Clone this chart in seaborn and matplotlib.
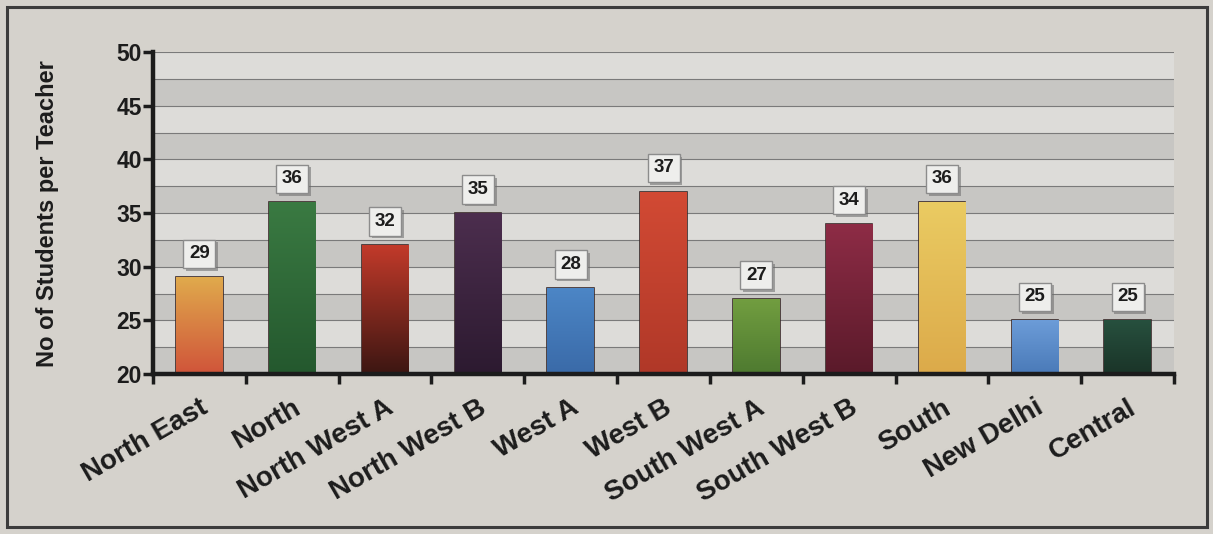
import numpy as np
import pandas as pd
import matplotlib
matplotlib.use("Agg")
import matplotlib.pyplot as plt
import matplotlib.patheffects as pe
from matplotlib.colors import LinearSegmentedColormap
from matplotlib.patches import Rectangle
import seaborn as sns

# Students per teacher, by education zone
zones = ["North East", "North", "North West A", "North West B", "West A", "West B",
         "South West A", "South West B", "South", "New Delhi", "Central"]
ratio = [29, 36, 32, 35, 28, 37, 27, 34, 36, 25, 25]
y_ticks = [20, 25, 30, 35, 40, 45, 50]

# Bar shading: colour at the top and at the base of each bar
top_colors = ["#e0aa4c", "#3a7a42", "#c23a2a", "#4c2e4e", "#4c86c6", "#d24a34",
              "#729e40", "#8e2c46", "#eacb62", "#6c9cd8", "#27503e"]
bottom_colors = ["#d0543a", "#24582e", "#3c1612", "#2c1a30", "#3a6aa8", "#b03828",
                 "#4e7a30", "#5a1a2a", "#dcaa4a", "#4a7ab8", "#1a3428"]

paper = "#d5d2cc"
band_light = "#dddcd9"
band_dark = "#c7c6c3"
ink = "#1c1c1c"

sns.set_theme(style="white")
plt.rcParams["font.family"] = ["Liberation Sans", "DejaVu Sans"]

fig = plt.figure(figsize=(12.13, 5.34), dpi=100, facecolor=paper)
ax = fig.add_axes([153 / 1213, 160 / 534, (1174 - 153) / 1213, 322 / 534])
ax.set_facecolor(band_light)

df = pd.DataFrame({"zone": zones, "ratio": ratio})
sns.barplot(data=df, x="zone", y="ratio", hue="zone", order=zones, hue_order=zones,
            palette=bottom_colors, saturation=1, width=0.5, legend=False, ax=ax,
            zorder=2)

ymin, ymax = y_ticks[0], y_ticks[-1]
ax.set_ylim(ymin, ymax)
ax.set_xlim(-0.5, len(zones) - 0.5)

# Alternating horizontal bands and thin rules every 2.5
for lo in np.arange(ymin, ymax, 5):
    ax.axhspan(lo, lo + 2.5, color=band_dark, lw=0, zorder=0)
for yv in np.arange(ymin, ymax + 0.1, 2.5):
    ax.axhline(yv, color="#7a7a7a", lw=0.8, zorder=0.5)

# Vertical colour gradient inside each bar
grad = np.linspace(0, 1, 256).reshape(-1, 1)
for patch, c_top, c_bot in zip(ax.patches, top_colors, bottom_colors):
    x0, y0 = patch.get_x(), patch.get_y()
    w, h = patch.get_width(), patch.get_height()
    cmap = LinearSegmentedColormap.from_list("bar", [c_bot, c_top])
    im = ax.imshow(grad, extent=[x0, x0 + w, max(y0, ymin), y0 + h], origin="lower",
                   aspect="auto", cmap=cmap, zorder=2.1, interpolation="bilinear")
    im.set_clip_path(patch)
    patch.set_edgecolor("#3a2a2a")
    patch.set_linewidth(1.2)
ax.set_ylim(ymin, ymax)
ax.set_xlim(-0.5, len(zones) - 0.5)

# Value boxes above the bars
for i, v in enumerate(ratio):
    t = ax.annotate(str(v), xy=(i, v), xytext=(0, 17), textcoords="offset points",
                    ha="center", va="center", fontsize=13.5, fontweight="bold",
                    color=ink, zorder=4,
                    bbox=dict(boxstyle="square,pad=0.3", fc="#eeeeec", ec="#8c8c8c", lw=1))
    t.get_bbox_patch().set_path_effects(
        [pe.SimplePatchShadow(offset=(2, -2), shadow_rgbFace="#6a6a6a", alpha=0.55),
         pe.Normal()])

# Axes styling
for side in ["top", "right"]:
    ax.spines[side].set_visible(False)
for side in ["left", "bottom"]:
    ax.spines[side].set_linewidth(3.2)
    ax.spines[side].set_color(ink)
    ax.spines[side].set_zorder(5)

ax.set_yticks(y_ticks)
ax.set_yticklabels([str(t) for t in y_ticks], fontsize=16.5, fontweight="bold", color=ink)
ax.tick_params(axis="y", direction="out", length=7, width=2.5, color=ink, pad=1, left=True)

ax.set_xticks(range(len(zones)))
ax.set_xticklabels(zones, rotation=30, ha="right", rotation_mode="anchor",
                   fontsize=20, fontweight="bold", color=ink)
ax.set_xticks(np.arange(-0.5, len(zones), 1), minor=True)
ax.tick_params(axis="x", which="major", length=0, pad=15)
ax.tick_params(axis="x", which="minor", direction="out", length=7, width=2.5,
               color=ink, bottom=True)
ax.set_xlabel("")
ax.set_ylabel("")
ax.grid(False)

fig.text(48 / 1213, (534 - 214) / 534, "No of Students per Teacher", rotation=90,
         ha="center", va="center", fontsize=17, fontweight="bold", color=ink)

# Outer frame around the graphic
fig.add_artist(Rectangle((7 / 1213, 7 / 534), 1200 / 1213, 520 / 534,
                         transform=fig.transFigure, fill=False, ec="#3c3c3c", lw=2.2))

fig.savefig("out.png", dpi=100, facecolor=fig.get_facecolor())
